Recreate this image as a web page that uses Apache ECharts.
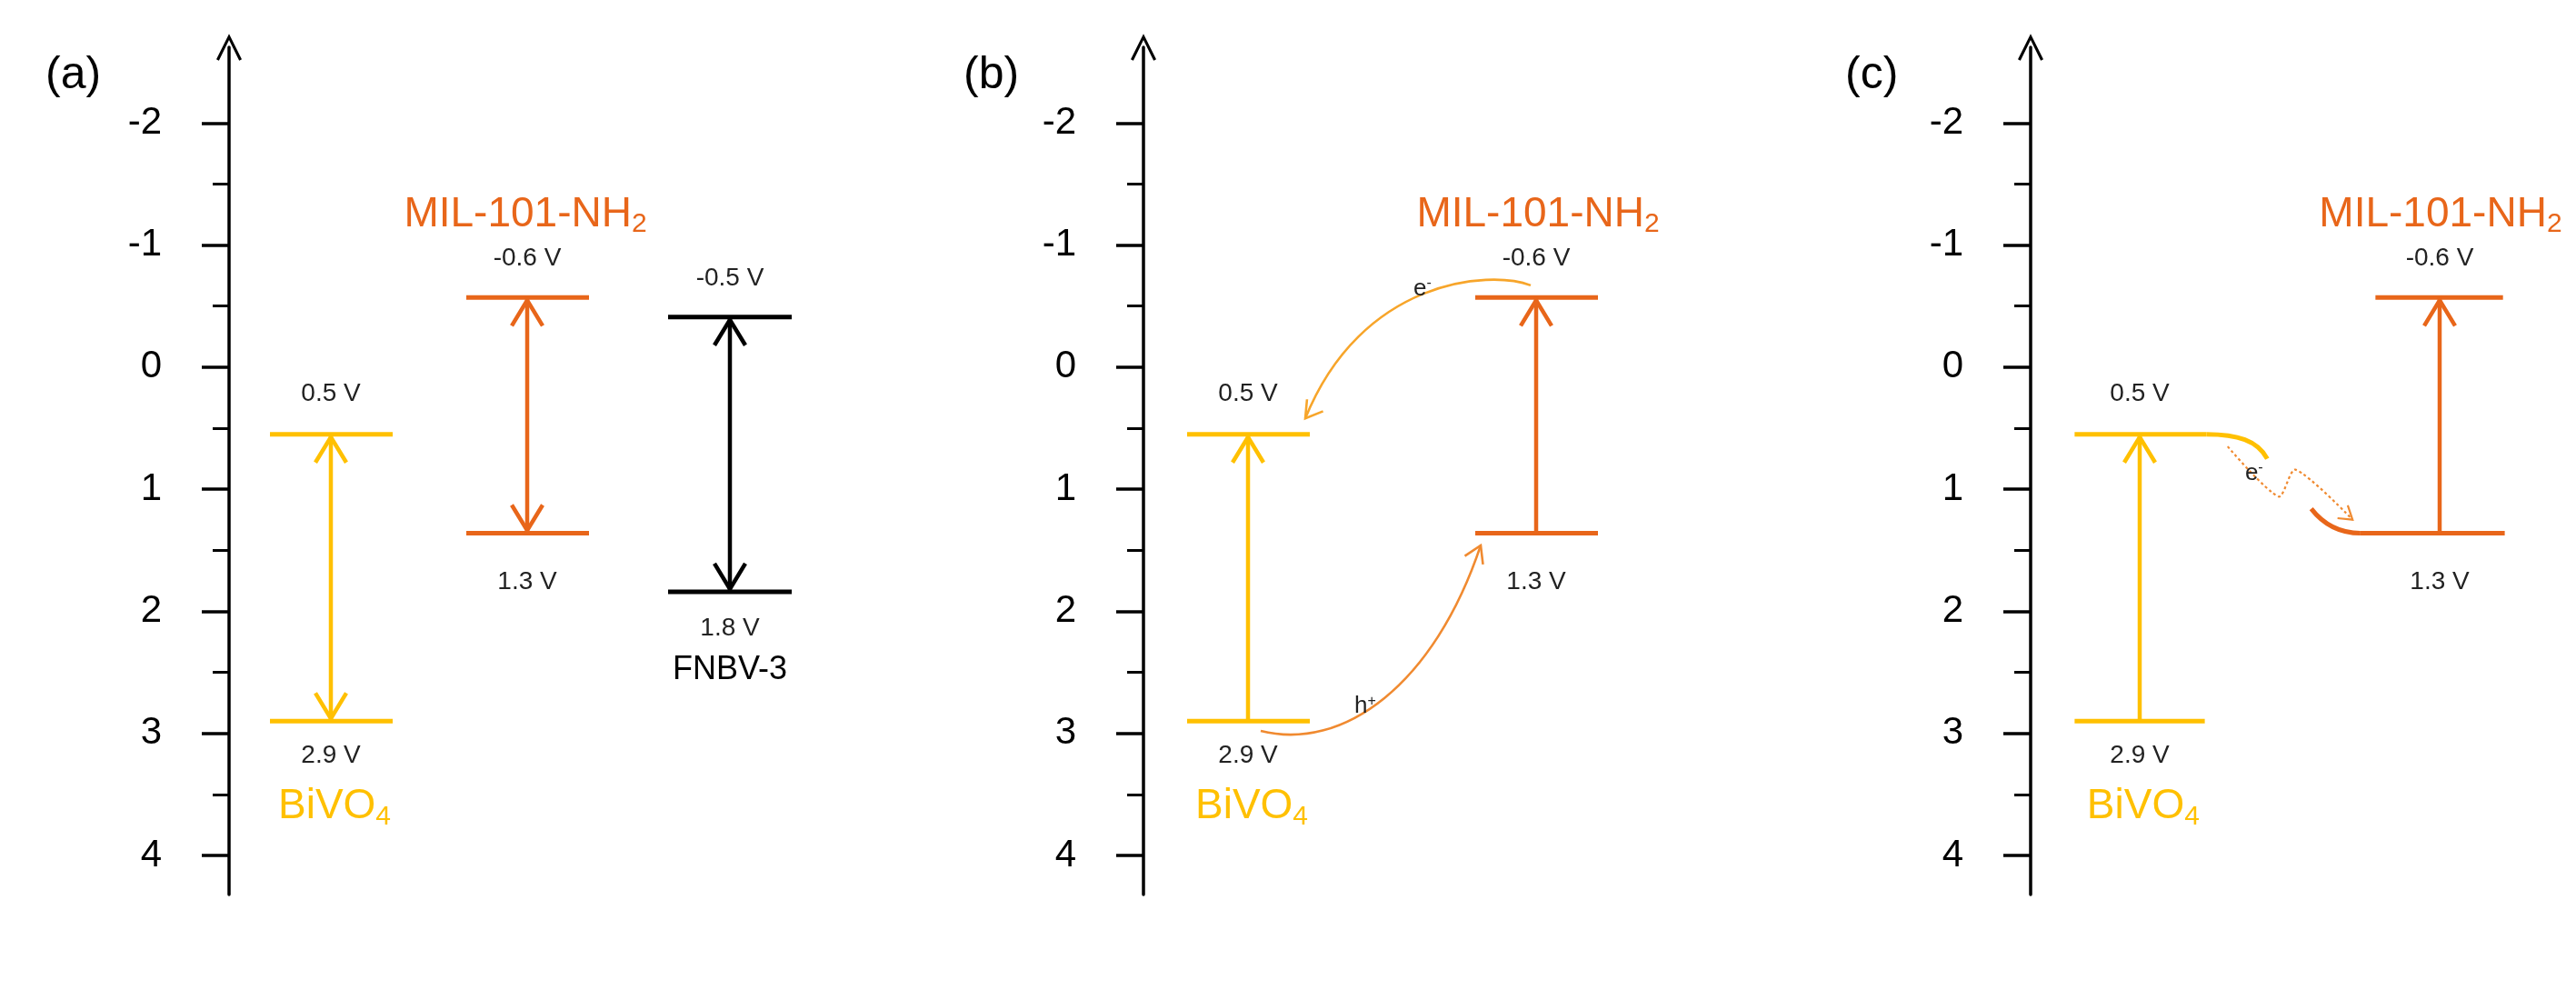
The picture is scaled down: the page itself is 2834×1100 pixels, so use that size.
<!DOCTYPE html>
<html><head><meta charset="utf-8">
<script src="https://cdn.jsdelivr.net/npm/echarts@6/dist/echarts.min.js"></script>
<style>html,body{margin:0;padding:0;background:#fff}#c{width:2834px;height:1100px}</style>
</head><body><div id="c"></div>
<script>
// ---- data (potentials, V) ----
const majorTicks = [-2, -1, 0, 1, 2, 3, 4];
const minorTicks = [-1.5, -0.5, 0.5, 1.5, 2.5, 3.5];
const panelLabels = ['(a)', '(b)', '(c)'];
const bivo4Levels = [0.55, 2.9];          // drawn CB, VB
const bivo4Texts = ['0.5 V', '2.9 V'];
const milLevels = [-0.57, 1.36];
const milTexts = ['-0.6 V', '1.3 V'];
const fnbvLevels = [-0.41, 1.84];
const fnbvTexts = ['-0.5 V', '1.8 V'];

const YEL = '#FFC000', ORA = '#E8661A', EARROW = '#F7A52A', HARROW = '#F08A30';
const FONT = 'Liberation Sans, Arial, sans-serif';
const axisX = [252, 1258, 2234];
const TOP = 52, BOTTOM_PX = 984;
const YMIN = -2.62, YMAX = 4.32;

function chevron(p, dir, len, half, color, lw) {
  const nx = -dir[1], ny = dir[0];
  const bx = p[0] - dir[0] * len, by = p[1] - dir[1] * len;
  return { type: 'polyline', shape: { points: [[bx + nx * half, by + ny * half], p, [bx - nx * half, by - ny * half]] },
    style: { stroke: color, lineWidth: lw, fill: null, lineJoin: 'miter' } };
}
function hline(api, x1, x2, y, color) {
  const a = api.coord([x1, y]), b = api.coord([x2, y]);
  return { type: 'line', shape: { x1: a[0], y1: a[1], x2: b[0], y2: b[1] }, style: { stroke: color, lineWidth: 5 } };
}
function vArrow(api, x, yFrom, yTo, color, both) {
  const a = api.coord([x, yFrom]), b = api.coord([x, yTo]);
  const els = [{ type: 'line', shape: { x1: a[0], y1: a[1], x2: b[0], y2: b[1] }, style: { stroke: color, lineWidth: 4.5 } }];
  const d = b[1] < a[1] ? -1 : 1;
  els.push(chevron([b[0], b[1] + d * -3], [0, d], 28, 17, color, 4.5));
  if (both) els.push(chevron([a[0], a[1] - d * -3], [0, -d], 28, 17, color, 4.5));
  return els;
}
function txt(api, x, y, text, color, size) {
  const p = api.coord([x, y]);
  return { type: 'text', x: p[0], y: p[1], style: { text: text, fill: color, fontFamily: FONT, fontSize: size, align: 'center', verticalAlign: 'middle' } };
}
function title(api, x, y, name, sub, color) {
  const p = api.coord([x, y]);
  return { type: 'text', x: p[0], y: p[1], style: { text: name + '{s|' + sub + '}', fontFamily: FONT, fontSize: 46, fill: color,
    align: 'center', verticalAlign: 'middle', rich: { s: { fontSize: 30, fontFamily: FONT, fill: color, padding: [22, 0, 0, 0] } } } };
}
function sup(api, x, y, base, s) {
  const p = api.coord([x, y]);
  return { type: 'text', x: p[0], y: p[1], style: { text: base + '{s|' + s + '}', fontFamily: FONT, fontSize: 26, fill: '#222', align: 'center', verticalAlign: 'middle', rich: { s: { fontSize: 16, fill: '#222', padding: [0, 0, 12, 0] } } } };
}
function bez(api, pts, color, lw, dash) {
  const c = pts.map(q => api.coord(q));
  return { type: 'bezierCurve', shape: { x1: c[0][0], y1: c[0][1], cpx1: c[1][0], cpy1: c[1][1], cpx2: c[2][0], cpy2: c[2][1], x2: c[3][0], y2: c[3][1] },
    style: { stroke: color, lineWidth: lw, fill: null, lineDash: dash || null } };
}
function endHead(api, from, to, color, len, half, lw) {
  const a = api.coord(from), b = api.coord(to);
  let dx = b[0] - a[0], dy = b[1] - a[1]; const L = Math.hypot(dx, dy); dx /= L; dy /= L;
  return chevron(b, [dx, dy], len, half, color, lw);
}

const renderA = (params, api) => {
  const ch = [];
  ch.push(hline(api, 45, 180, bivo4Levels[0], YEL), hline(api, 45, 180, bivo4Levels[1], YEL));
  ch.push(...vArrow(api, 112, bivo4Levels[1], bivo4Levels[0], YEL, true));
  ch.push(hline(api, 261, 396, milLevels[0], ORA), hline(api, 261, 396, milLevels[1], ORA));
  ch.push(...vArrow(api, 328, milLevels[0], milLevels[1], ORA, true));
  ch.push(hline(api, 483, 619, fnbvLevels[0], '#000'), hline(api, 483, 619, fnbvLevels[1], '#000'));
  ch.push(...vArrow(api, 551, fnbvLevels[0], fnbvLevels[1], '#000', true));
  ch.push(txt(api, 112, bivo4Levels[0] - 0.33, bivo4Texts[0], '#222', 28), txt(api, 112, bivo4Levels[1] + 0.28, bivo4Texts[1], '#222', 28));
  ch.push(title(api, 116, bivo4Levels[1] + 0.7, 'BiVO', '4', YEL));
  ch.push(txt(api, 328, milLevels[0] - 0.32, milTexts[0], '#222', 28), txt(api, 328, milLevels[1] + 0.4, milTexts[1], '#222', 28));
  ch.push(title(api, 326, milLevels[0] - 0.68, 'MIL-101-NH', '2', ORA));
  ch.push(txt(api, 551, fnbvLevels[0] - 0.32, fnbvTexts[0], '#222', 28), txt(api, 551, fnbvLevels[1] + 0.3, fnbvTexts[1], '#222', 28));
  ch.push(txt(api, 551, fnbvLevels[1] + 0.64, 'FNBV-3', '#000', 36));
  return { type: 'group', children: ch };
};
const renderB = (params, api) => {
  const ch = [];
  ch.push(hline(api, 48, 183, bivo4Levels[0], YEL), hline(api, 48, 183, bivo4Levels[1], YEL));
  ch.push(...vArrow(api, 115, bivo4Levels[1], bivo4Levels[0], YEL, false));
  ch.push(hline(api, 365, 500, milLevels[0], ORA), hline(api, 365, 500, milLevels[1], ORA));
  ch.push(...vArrow(api, 432, milLevels[1], milLevels[0], ORA, false));
  const ePts = [[426, milLevels[0] - 0.1], [380, -0.8], [240, -0.72], [178, bivo4Levels[0] - 0.13]];
  ch.push(bez(api, ePts, EARROW, 2.6));
  ch.push(endHead(api, [200, 0.2], ePts[3], EARROW, 18, 11, 2.6));
  const hPts = [[129, bivo4Levels[1] + 0.08], [220, 3.15], [320, 2.6], [371, milLevels[1] + 0.1]];
  ch.push(bez(api, hPts, HARROW, 2.6));
  ch.push(endHead(api, [355, 1.72], hPts[3], HARROW, 18, 11, 2.6));
  ch.push(sup(api, 307, -0.64, 'e', '-'), sup(api, 244, 2.78, 'h', '+'));
  ch.push(txt(api, 115, bivo4Levels[0] - 0.33, bivo4Texts[0], '#222', 28), txt(api, 115, bivo4Levels[1] + 0.28, bivo4Texts[1], '#222', 28));
  ch.push(title(api, 119, bivo4Levels[1] + 0.7, 'BiVO', '4', YEL));
  ch.push(txt(api, 432, milLevels[0] - 0.32, milTexts[0], '#222', 28), txt(api, 432, milLevels[1] + 0.4, milTexts[1], '#222', 28));
  ch.push(title(api, 434, milLevels[0] - 0.68, 'MIL-101-NH', '2', ORA));
  return { type: 'group', children: ch };
};
const renderC = (params, api) => {
  const ch = [];
  ch.push(hline(api, 50, 200, bivo4Levels[0], YEL), hline(api, 50, 198, bivo4Levels[1], YEL));
  ch.push(bez(api, [[200, bivo4Levels[0]], [235, bivo4Levels[0]], [258, bivo4Levels[0] + 0.05], [269, bivo4Levels[0] + 0.2]], YEL, 5));
  ch.push(...vArrow(api, 124, bivo4Levels[1], bivo4Levels[0], YEL, false));
  ch.push(hline(api, 392, 537, milLevels[0], ORA), hline(api, 375, 539, milLevels[1], ORA));
  ch.push(bez(api, [[319, milLevels[1] - 0.2], [332, milLevels[1] - 0.08], [350, milLevels[1]], [375, milLevels[1]]], ORA, 5));
  ch.push(...vArrow(api, 465, milLevels[1], milLevels[0], ORA, false));
  const w = [[224, 0.65], [282, 1.06], [301, 0.84], [366, 1.25]].map(q => api.coord(q));
  ch.push({ type: 'polyline', shape: { points: w, smooth: 0.25 }, style: { stroke: HARROW, lineWidth: 2.2, lineDash: [3, 3], fill: null } });
  ch.push(endHead(api, [340, 1.1], [366, 1.25], HARROW, 14, 9, 2.2));
  ch.push(sup(api, 254, 0.87, 'e', '-'));
  ch.push(txt(api, 124, bivo4Levels[0] - 0.33, bivo4Texts[0], '#222', 28), txt(api, 124, bivo4Levels[1] + 0.28, bivo4Texts[1], '#222', 28));
  ch.push(title(api, 128, bivo4Levels[1] + 0.7, 'BiVO', '4', YEL));
  ch.push(txt(api, 465, milLevels[0] - 0.32, milTexts[0], '#222', 28), txt(api, 465, milLevels[1] + 0.4, milTexts[1], '#222', 28));
  ch.push(title(api, 466, milLevels[0] - 0.68, 'MIL-101-NH', '2', ORA));
  return { type: 'group', children: ch };
};

const arrowPath = 'path://M0,14 L7,0 L14,14 L12.6,14.7 L7,3.4 L1.4,14.7 Z';
const grids = [], xAxes = [], yAxes = [], series = [];
const renders = [renderA, renderB, renderC];
axisX.forEach((ax, i) => {
  grids.push({ left: ax, top: TOP, width: 620, height: BOTTOM_PX - TOP });
  xAxes.push({ gridIndex: i, type: 'value', min: 0, max: 620, show: false });
  yAxes.push({ gridIndex: i, type: 'value', inverse: true, min: YMIN, max: YMAX, position: 'left', splitLine: { show: false },
    axisLine: { show: true, onZero: false, lineStyle: { color: '#000', width: 3.5 }, symbol: ['none', arrowPath], symbolSize: [28, 34], symbolOffset: [0, 0] },
    axisTick: { show: true, length: 30, lineStyle: { color: '#000', width: 3.5 }, customValues: majorTicks },
    axisLabel: { show: true, margin: 74, color: '#000', fontSize: 42, fontFamily: FONT, customValues: majorTicks, formatter: v => String(v) } });
  yAxes.push({ gridIndex: i, type: 'value', inverse: true, min: YMIN, max: YMAX, position: 'left', splitLine: { show: false },
    axisLine: { show: false, onZero: false }, axisLabel: { show: false },
    axisTick: { show: true, length: 18, lineStyle: { color: '#000', width: 3 }, customValues: minorTicks } });
  series.push({ type: 'custom', xAxisIndex: i, yAxisIndex: 2 * i, data: [[0, 0]], renderItem: renders[i], silent: true, clip: false });
});
const panelX = [95, 1105, 2075];
const chart = echarts.init(document.getElementById('c'), null, { renderer: 'canvas' });
chart.setOption({
  animation: false, backgroundColor: '#fff',
  grid: grids, xAxis: xAxes, yAxis: yAxes, series: series,
  graphic: panelLabels.map((t, i) => ({ type: 'text', left: panelX[i] - 45, top: 58, style: { text: t, fontFamily: FONT, fontSize: 50, fill: '#000' } }))
});
</script></body></html>
